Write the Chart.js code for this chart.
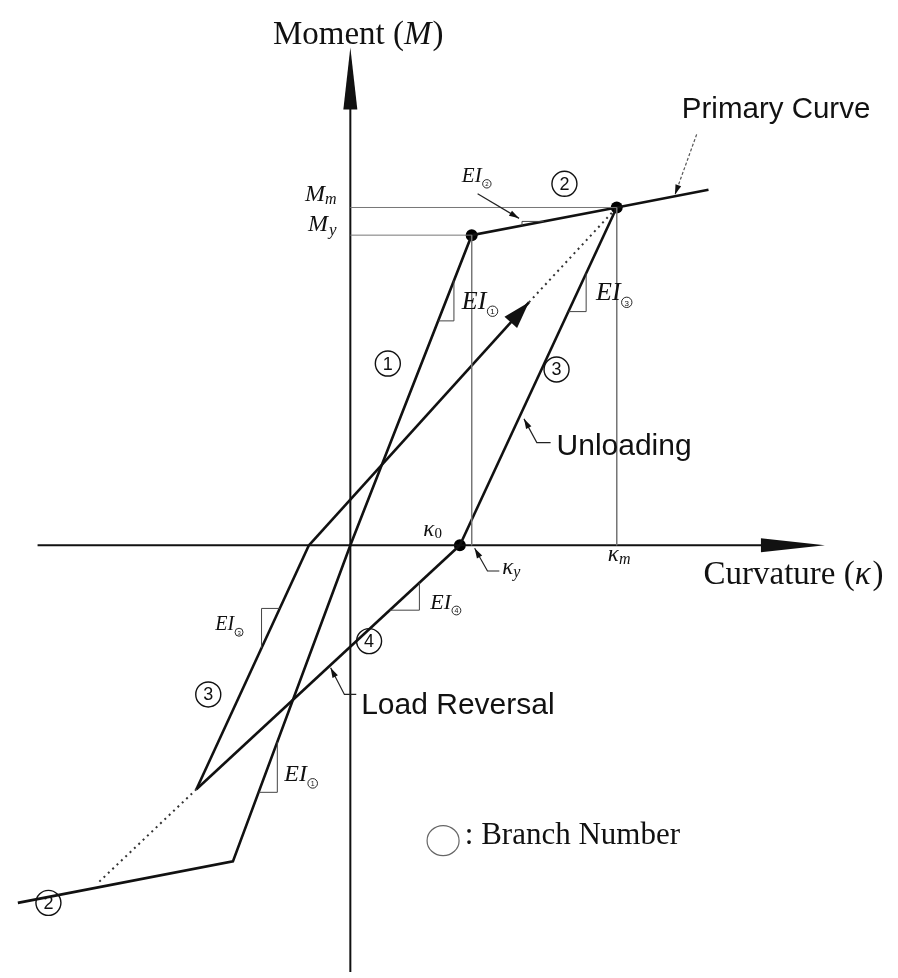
<!DOCTYPE html>
<html>
<head>
<meta charset="utf-8">
<script src="https://cdn.jsdelivr.net/npm/chart.js@4.4.1/dist/chart.umd.min.js"></script>
<style>
  html, body { margin: 0; padding: 0; background: #fff; }
  #wrap { width: 898px; height: 978px; }
</style>
</head>
<body>
<div id="wrap"><canvas id="c" width="898" height="978"></canvas></div>
<script>
// Moment–curvature hysteresis model (curvature κ, moment M in model units)
const kappaY = 1.23, momentY = 3.14;   // yield point
const kappaM = 2.70, momentM = 3.42;   // maximum response point
const kappa0 = 1.11;                   // residual curvature after unloading

const primaryCurve     = [[-3.37, -3.62], [-1.19, -3.20], [0, 0], [kappaY, momentY], [kappaM, momentM], [3.63, 3.60]];
const unloadingBranch  = [[kappaM, momentM], [kappa0, 0]];
const reversalBranch   = [[kappa0, 0], [-1.56, -2.47]];
const reversalTarget   = [[-1.56, -2.47], [-2.56, -3.42]];
const reverseUnloading = [[-1.56, -2.47], [-0.42, 0]];
const reloadingBranch  = [[-0.42, 0], [1.81, 2.46]];
const reloadingTarget  = [[1.81, 2.46], [kappaM, momentM]];
const markedPoints     = [[kappaY, momentY], [kappaM, momentM], [kappa0, 0]];

const guideMm = [[0, momentM], [kappaM, momentM]];
const guideMy = [[0, momentY], [kappaY, momentY]];
const guideKy = [[kappaY, momentY], [kappaY, 0]];
const guideKm = [[kappaM, momentM], [kappaM, 0]];

// axis extents and arrow tips
const momentAxis    = [[0, -4.32], [0, 4.45]];
const curvatureAxis = [[-3.17, 0], [4.20, 0]];
const momentTip = [0, 5.04];
const curvatureTip = [4.81, 0];

// branch numbers
const branchNumbers = [
  ['1', [0.38, 1.84]], ['2', [2.17, 3.66]], ['3', [2.09, 1.78]],
  ['3', [-1.44, -1.51]], ['4', [0.19, -0.97]], ['2', [-3.06, -3.62]]
];

// stiffness triangles: segment, κ of the two points on it, side of the corner
const stiffnessMarks = [
  { seg: [[0, 0], [kappaY, momentY]], ka: 0.89, kb: 1.05, side: 'below', label: '1', at: [1.13, 2.39], size: 26 },
  { seg: [[-1.19, -3.20], [0, 0]], ka: -0.93, kb: -0.74, side: 'below', label: '1', at: [-0.67, -2.39], size: 24 },
  { seg: [[kappaY, momentY], [kappaM, momentM]], ka: 1.74, kb: 1.96, side: 'above', label: '2', at: [1.13, 3.68], size: 21 },
  { seg: [[kappa0, 0], [kappaM, momentM]], ka: 2.21, kb: 2.39, side: 'below', label: '3', at: [2.49, 2.48], size: 26 },
  { seg: [[-1.56, -2.47], [-0.42, 0]], ka: -0.90, kb: -0.715, side: 'above', label: '3', at: [-1.37, -0.86], size: 20 },
  { seg: [[-1.56, -2.47], [kappa0, 0]], ka: 0.40, kb: 0.70, side: 'below', label: '4', at: [0.81, -0.64], size: 22 }
];

// pointer lines ending in a small arrowhead
const pointers = [
  { pts: [[3.51, 4.16], [3.29, 3.55]], dash: [3, 2], color: '#555' },
  { pts: [[1.29, 3.56], [1.71, 3.31]], dash: [], color: '#222' },
  { pts: [[2.03, 1.04], [1.89, 1.04], [1.76, 1.28]], dash: [], color: '#222' },
  { pts: [[0.06, -1.51], [-0.06, -1.51], [-0.20, -1.24]], dash: [], color: '#222' },
  { pts: [[1.51, -0.26], [1.39, -0.26], [1.26, -0.03]], dash: [], color: '#222' }
];

const SERIF = '"Liberation Serif", "Times New Roman", serif';
const SANS = '"Liberation Sans", Arial, sans-serif';

const xy = arr => arr.map(([x, y]) => ({ x, y }));
const lineSet = (data, opts) => Object.assign({
  data: xy(data), showLine: true, borderColor: '#111', borderWidth: 2.6,
  pointRadius: 0, fill: false, tension: 0
}, opts || {});

function runs(ctx, x, y, parts, align) {
  let total = 0;
  parts.forEach(p => { ctx.font = p.font; p.w = ctx.measureText(p.text).width; total += p.w + (p.dx || 0); });
  let cx = align === 'center' ? x - total / 2 : align === 'right' ? x - total : x;
  parts.forEach(p => {
    ctx.font = p.font; cx += (p.dx || 0);
    ctx.fillText(p.text, cx, y + (p.dy || 0));
    cx += p.w;
  });
  return cx;
}

function arrowHead(ctx, tip, from, len, half) {
  const dx = tip[0] - from[0], dy = tip[1] - from[1];
  const d = Math.hypot(dx, dy), ux = dx / d, uy = dy / d;
  const bx = tip[0] - ux * len, by = tip[1] - uy * len;
  ctx.beginPath();
  ctx.moveTo(tip[0], tip[1]);
  ctx.lineTo(bx - uy * half, by + ux * half);
  ctx.lineTo(bx + uy * half, by - ux * half);
  ctx.closePath();
  ctx.fill();
}

function circled(ctx, cx, cy, r, digit, fs, lw) {
  ctx.save();
  ctx.lineWidth = lw;
  ctx.strokeStyle = '#111';
  ctx.beginPath(); ctx.arc(cx, cy, r, 0, Math.PI * 2); ctx.stroke();
  ctx.font = fs + 'px ' + SANS;
  ctx.textAlign = 'center'; ctx.textBaseline = 'middle';
  ctx.fillText(digit, cx, cy + 1);
  ctx.restore();
}

const annotations = {
  id: 'annotations',
  afterDatasetsDraw(chart) {
    const ctx = chart.ctx, sx = chart.scales.x, sy = chart.scales.y;
    const P = ([k, m]) => [sx.getPixelForValue(k), sy.getPixelForValue(m)];
    ctx.save();
    ctx.fillStyle = '#111';

    // axis arrowheads
    arrowHead(ctx, P(momentTip), P(momentAxis[0]), 62, 7);
    arrowHead(ctx, P(curvatureTip), P(curvatureAxis[0]), 64, 7);
    // reloading direction arrow
    arrowHead(ctx, P(reloadingBranch[1]), P(reloadingBranch[0]), 27, 8.5);

    // stiffness triangles and EI labels
    stiffnessMarks.forEach(s => {
      const [a, b] = s.seg;
      const mAt = k => a[1] + (b[1] - a[1]) * (k - a[0]) / (b[0] - a[0]);
      const A = [s.ka, mAt(s.ka)], B = [s.kb, mAt(s.kb)];
      const C = s.side === 'below' ? [B[0], A[1]] : [A[0], B[1]];
      const pa = P(A), pb = P(B), pc = P(C);
      ctx.save();
      ctx.strokeStyle = '#444'; ctx.lineWidth = 1;
      ctx.beginPath(); ctx.moveTo(pa[0], pa[1]); ctx.lineTo(pc[0], pc[1]); ctx.lineTo(pb[0], pb[1]); ctx.stroke();
      ctx.restore();
      const p = P(s.at);
      ctx.textBaseline = 'alphabetic'; ctx.textAlign = 'left';
      const end = runs(ctx, p[0], p[1], [{ text: 'EI', font: 'italic ' + s.size + 'px ' + SERIF }], 'left');
      const r = s.size * 0.2;
      circled(ctx, end + r + 1, p[1] + 2, r, s.label, Math.round(s.size * 0.3), 0.9);
    });

    // branch numbers
    branchNumbers.forEach(([d, at]) => {
      const p = P(at);
      circled(ctx, p[0], p[1], 12.5, d, 18, 1.4);
    });

    // pointer lines
    pointers.forEach(q => {
      const pts = q.pts.map(P);
      ctx.save();
      ctx.strokeStyle = q.color; ctx.lineWidth = 1.2; ctx.setLineDash(q.dash);
      ctx.beginPath();
      pts.forEach((p, i) => i ? ctx.lineTo(p[0], p[1]) : ctx.moveTo(p[0], p[1]));
      ctx.stroke();
      ctx.restore();
      ctx.fillStyle = '#111';
      arrowHead(ctx, pts[pts.length - 1], pts[pts.length - 2], 10, 3);
    });

    // texts
    ctx.fillStyle = '#111';
    ctx.textBaseline = 'alphabetic';
    let p = P([0.08, 5.08]);
    runs(ctx, p[0], p[1], [
      { text: 'Moment (', font: '33px ' + SERIF },
      { text: 'M', font: 'italic 33px ' + SERIF },
      { text: ')', font: '33px ' + SERIF, dx: 1 }
    ], 'center');
    p = P([3.58, -0.39]);
    runs(ctx, p[0], p[1], [
      { text: 'Curvature (', font: '33px ' + SERIF },
      { text: 'κ', font: 'italic 33px ' + SERIF },
      { text: ')', font: '33px ' + SERIF, dx: 2 }
    ], 'left');
    p = P([3.36, 4.33]);
    runs(ctx, p[0], p[1], [{ text: 'Primary Curve', font: '29.5px ' + SANS }], 'left');
    p = P([2.09, 0.91]);
    runs(ctx, p[0], p[1], [{ text: 'Unloading', font: '30px ' + SANS }], 'left');
    p = P([0.11, -1.71]);
    runs(ctx, p[0], p[1], [{ text: 'Load Reversal', font: '30px ' + SANS }], 'left');

    // legend of branch numbering
    p = P([0.94, -2.99]);
    ctx.save();
    ctx.strokeStyle = '#666'; ctx.lineWidth = 1.2;
    ctx.beginPath(); ctx.ellipse(p[0], p[1], 16, 15, 0, 0, Math.PI * 2); ctx.stroke();
    ctx.restore();
    p = P([1.16, -3.02]);
    runs(ctx, p[0], p[1], [{ text: ': Branch Number', font: '31px ' + SERIF }], 'left');

    // moment and curvature markers
    p = P([-0.14, 3.49]);
    runs(ctx, p[0], p[1], [
      { text: 'M', font: 'italic 24px ' + SERIF },
      { text: 'm', font: 'italic 16px ' + SERIF, dy: 3 }
    ], 'right');
    p = P([-0.14, 3.18]);
    runs(ctx, p[0], p[1], [
      { text: 'M', font: 'italic 24px ' + SERIF },
      { text: 'y', font: 'italic 17px ' + SERIF, dy: 4, dx: 1 }
    ], 'right');
    p = P([0.74, 0.09]);
    runs(ctx, p[0], p[1], [
      { text: 'κ', font: 'italic 23px ' + SERIF },
      { text: '0', font: '15px ' + SERIF, dy: 2 }
    ], 'left');
    p = P([2.61, -0.16]);
    runs(ctx, p[0], p[1], [
      { text: 'κ', font: 'italic 23px ' + SERIF },
      { text: 'm', font: 'italic 16px ' + SERIF, dy: 3 }
    ], 'left');
    p = P([1.54, -0.29]);
    runs(ctx, p[0], p[1], [
      { text: 'κ', font: 'italic 23px ' + SERIF },
      { text: 'y', font: 'italic 16px ' + SERIF, dy: 3 }
    ], 'left');

    ctx.restore();
  }
};

new Chart(document.getElementById('c'), {
  type: 'scatter',
  data: {
    datasets: [
      lineSet(guideMm, { borderColor: '#777', borderWidth: 1 }),
      lineSet(guideMy, { borderColor: '#777', borderWidth: 1 }),
      lineSet(guideKy, { borderColor: '#777', borderWidth: 1 }),
      lineSet(guideKm, { borderColor: '#777', borderWidth: 1 }),
      lineSet(momentAxis, { borderWidth: 2 }),
      lineSet(curvatureAxis, { borderWidth: 2 }),
      lineSet(primaryCurve),
      lineSet(unloadingBranch),
      lineSet(reversalBranch),
      lineSet(reverseUnloading),
      lineSet(reloadingBranch),
      lineSet(reversalTarget, { borderWidth: 2, borderDash: [2, 4], borderColor: '#333' }),
      lineSet(reloadingTarget, { borderWidth: 2, borderDash: [2, 4], borderColor: '#333' }),
      { data: xy(markedPoints), showLine: false, pointRadius: 6, pointBackgroundColor: '#000', pointBorderColor: '#000', pointBorderWidth: 0 }
    ]
  },
  options: {
    responsive: false,
    animation: false,
    devicePixelRatio: 1,
    layout: { padding: 0 },
    plugins: { legend: { display: false }, tooltip: { enabled: false } },
    scales: {
      x: { type: 'linear', min: -3.49, max: 5.49, display: false },
      y: { type: 'linear', min: -4.32, max: 5.46, display: false }
    }
  },
  plugins: [annotations]
});
</script>
</body>
</html>
